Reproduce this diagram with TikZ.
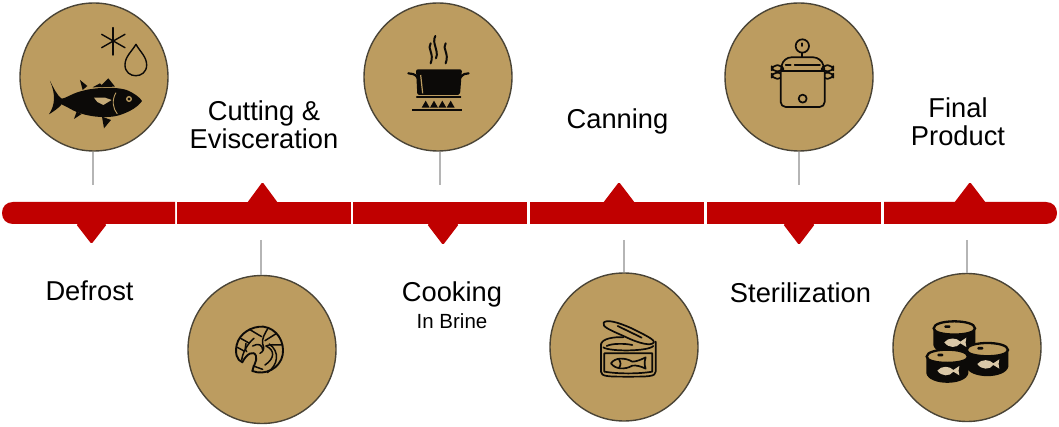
\documentclass[tikz,border=0pt]{standalone}
\usepackage{fontspec}
\setmainfont{Liberation Sans}
\definecolor{barred}{HTML}{C00000}
\definecolor{gold}{HTML}{BC9C60}
\definecolor{ink}{HTML}{0C0A08}
\definecolor{rim}{HTML}{4A4436}
\definecolor{stem}{HTML}{B5B5B5}
\tikzset{
  zoomed/.style 2 args={x=.3333pt,y=-.3333pt,xshift=#1pt,yshift=-#2pt},
  disc/.style={circle,draw=rim,line width=1.4pt,fill=gold,minimum size=148pt,inner sep=0pt},
  seg/.style={fill=barred,draw=none},
  stemline/.style={draw=stem,line width=1.5pt},
  lab/.style={font=\fontsize{27.3}{28}\selectfont,align=center,text=black,inner sep=0pt},
  lin/.style={draw=ink,line width=1.7pt,line cap=round,line join=round},
  thin/.style={draw=ink,line width=1.5pt,line cap=round,line join=round},
  blk/.style={fill=ink,draw=none}
}
\newcommand{\tincan}[2]{%
  \begin{scope}[xshift=#1*.3333pt,yshift=-#2*.3333pt]
  \fill[blk] (-63,0) -- (-63,50) .. controls (-55,88) and (55,88) .. (63,50) -- (63,0) -- cycle;
  \fill[gold] (-62,0) .. controls (-62,-28) and (62,-28) .. (62,0) .. controls (62,25) and (-62,25) .. (-62,0) -- cycle;
  \draw[draw=ink,line width=2.3pt] (-62,0) .. controls (-62,-28) and (62,-28) .. (62,0) .. controls (62,25) and (-62,25) .. (-62,0) -- cycle;
  \fill[blk,rounded corners=1pt] (-30,-9) rectangle (-12,-1);
  \fill[gold!55!white] (-30,42) .. controls (-18,26) and (8,28) .. (18,40) -- (36,28) .. controls (33,38) and (33,46) .. (36,56) -- (18,45) .. controls (8,60) and (-18,60) .. (-30,42) -- cycle;
  \end{scope}}
\begin{document}
\begin{tikzpicture}[x=1pt,y=-1pt]
\useasboundingbox (0,0) rectangle (1059,427);
% bar
\fill[seg] (13,202) -- (175,202) -- (175,224) -- (13,224) .. controls (6,224) and (2,219) .. (2,213) .. controls (2,207) and (6,202) .. (13,202) -- cycle;
\fill[seg] (177,202) rectangle (351,224);
\fill[seg] (353,202) rectangle (527,224);
\fill[seg] (530,202) rectangle (704,224);
\fill[seg] (707,202) rectangle (881,224);
\fill[seg] (884,202) -- (1046,202) .. controls (1053,202) and (1057,207) .. (1057,213) .. controls (1057,219) and (1053,224) .. (1046,224) -- (884,224) -- cycle;
% pointers
\fill[seg,rounded corners=1.5pt] (76,224) -- (91.5,244) -- (107,224) -- cycle;
\fill[seg,rounded corners=1.5pt] (247,203) -- (262.5,182) -- (278,203) -- cycle;
\fill[seg,rounded corners=1.5pt] (427,224) -- (443,245) -- (459,224) -- cycle;
\fill[seg,rounded corners=1.5pt] (603,203) -- (619,182) -- (635,203) -- cycle;
\fill[seg,rounded corners=1.5pt] (783,224) -- (799,245) -- (815,224) -- cycle;
\fill[seg,rounded corners=1.5pt] (954,203) -- (970,182) -- (986,203) -- cycle;
% discs
\node[disc] (d1) at (94,77) {};
\node[disc] (d2) at (262,349.5) {};
\node[disc] (d3) at (438,77) {};
\node[disc] (d4) at (624,347) {};
\node[disc] (d5) at (799,77) {};
\node[disc] (d6) at (967,347.5) {};
% connectors
\coordinate (e1) at (93,185);
\coordinate (e2) at (261,240);
\coordinate (e3) at (440,185);
\coordinate (e4) at (624,240);
\coordinate (e5) at (799,185);
\coordinate (e6) at (967,240);
\draw[stemline] (e1) -- (d1.south -| e1);
\draw[stemline] (e2) -- (d2.north -| e2);
\draw[stemline] (e3) -- (d3.south -| e3);
\draw[stemline] (e4) -- (d4.north -| e4);
\draw[stemline] (e5) -- (d5.south -| e5);
\draw[stemline] (e6) -- (d6.north -| e6);
% labels
\node[lab] (t1) at (89.5,291) {Defrost};
\node[lab] (t2) at (264,125) {Cutting \&\\Evisceration};
\node[lab,anchor=north] (t3) at (452,282) {Cooking\\[-1pt]{\fontsize{20.5}{22}\selectfont In Brine}};
\node[lab] (t4) at (617.5,121) {Canning};
\node[lab] (t5) at (800.5,293) {Sterilization};
\node[lab] (t6) at (958,122) {Final\\Product};
% fish and frost
\begin{scope}[zoomed={0}{0}]
\fill[blk] (150,243) .. controls (160,262) and (170,285) .. (185,296) .. controls (195,295) and (205,288) .. (215,284) .. controls (260,262) and (340,258) .. (380,270) .. controls (400,278) and (420,292) .. (426,303) .. controls (415,320) and (390,335) .. (360,345) .. controls (320,358) and (250,350) .. (212,327) -- (185,313) .. controls (175,325) and (160,335) .. (147,343) .. controls (165,315) and (168,285) .. (150,243) -- cycle;
\fill[blk] (240,240) -- (262,258) -- (248,270) -- cycle;
\fill[blk] (278,262) -- (300,250) -- (305,255) -- (325,235) -- (345,260) -- cycle;
\fill[blk] (222,357) -- (245,342) -- (230,335) -- cycle;
\fill[blk] (306,350) -- (333,360) -- (312,385) -- cycle;
\draw[gold,line width=.9pt] (348,278) .. controls (335,300) and (338,325) .. (352,342);
\fill[gold!85!white] (282,293) -- (315,293) -- (335,300) -- (310,315) -- (292,306) -- cycle;
\fill[gold] (387,297) circle [radius=9];
\fill[ink] (387,297) circle [radius=5];
\draw[lin,line width=1.4pt] (339,83) -- (339,165);
\draw[lin,line width=1.4pt] (305,103) -- (375,143);
\draw[lin,line width=1.4pt] (375,103) -- (305,143);
\draw[lin,line width=1.4pt] (408,133) .. controls (395,155) and (375,170) .. (375,195) .. controls (375,238) and (440,238) .. (440,195) .. controls (440,170) and (420,155) .. (408,133) -- cycle;
\end{scope}
% salmon steak
\begin{scope}[zoomed={180}{270}]
\draw[draw=ink,line width=1.9pt,line join=round] (187,277) .. controls (170,270) and (165,250) .. (170,225) .. controls (178,190) and (215,168) .. (250,170) .. controls (290,175) and (315,215) .. (308,255) .. controls (300,295) and (255,318) .. (217,303) .. controls (220,285) and (232,275) .. (228,258) .. controls (222,240) and (200,250) .. (187,277) -- cycle;
\draw[thin] (265,173) .. controls (255,190) and (245,205) .. (248,222) .. controls (255,235) and (250,245) .. (240,250);
\draw[thin] (218,228) .. controls (235,218) and (248,225) .. (248,240);
\draw[thin] (185,270) .. controls (190,235) and (215,210) .. (222,205);
\draw[thin] (172,232) -- (192,243);
\draw[thin] (182,205) -- (205,218) ;
\draw[thin] (208,178) -- (245,200);
\draw[thin] (290,190) -- (255,212);
\draw[thin] (306,225) .. controls (285,225) and (270,222) .. (258,228);
\draw[thin] (258,228) .. controls (285,240) and (285,265) .. (255,285);
\draw[thin] (268,222) .. controls (300,245) and (295,285) .. (262,308);
\draw[thin] (220,288) -- (248,298);
\draw[thin] (198,220) .. controls (195,228) and (195,240) .. (200,245);
\end{scope}
% pot
\begin{scope}[zoomed={360}{0}]
\foreach \sx in {212,257}{
  \draw[lin,line width=2pt] (\sx,130) .. controls (\sx-12,145) and (\sx+12,160) .. (\sx,190);
}
\draw[lin,line width=2pt] (226,108) .. controls (214,130) and (238,150) .. (228,175);
\fill[blk,rounded corners=2pt] (168,208) -- (306,208) -- (300,285) -- (172,285) -- cycle;
\draw[lin,line width=2.2pt] (145,220) .. controls (155,220) and (165,222) .. (172,232);
\draw[lin,line width=2.2pt] (326,220) .. controls (318,220) and (308,222) .. (302,232);
\draw[gold,line width=1.2pt] (182,225) -- (188,280);
\draw[lin,line width=1.2pt] (170,291) -- (302,291);
\foreach \bx in {197,222,247,272}{
  \fill[blk] (\bx-12,323) -- (\bx,302) -- (\bx+12,323) -- cycle;
}
\fill[blk] (157,326) rectangle (307,334);
\end{scope}
% opened can
\begin{scope}[zoomed={545}{270}]
\draw[lin] (168,222) -- (168,305) .. controls (168,320) and (190,320) .. (250,320) .. controls (310,320) and (332,320) .. (332,305) -- (332,215);
\draw[lin] (168,225) .. controls (168,205) and (210,200) .. (235,202);
\draw[lin] (175,232) .. controls (190,245) and (310,245) .. (325,228);
\draw[lin] (185,228) .. controls (200,220) and (240,220) .. (262,225);
\draw[lin] (178,250) -- (322,250) -- (322,305) .. controls (280,312) and (220,312) .. (178,305) -- cycle;
\draw[lin] (198,280) .. controls (210,262) and (240,262) .. (262,275) .. controls (275,275) and (290,268) .. (302,262) .. controls (298,275) and (298,285) .. (302,296) .. controls (290,290) and (275,285) .. (262,287) .. controls (240,300) and (210,298) .. (198,280) -- cycle;
\draw[lin] (222,268) .. controls (228,278) and (228,285) .. (222,294);
\draw[lin] (176,158) .. controls (185,148) and (215,155) .. (260,175) .. controls (300,195) and (332,210) .. (326,218) .. controls (318,228) and (285,222) .. (240,200) .. controls (200,182) and (168,170) .. (176,158) -- cycle;
\draw[lin] (218,168) -- (290,203);
\end{scope}
% pressure cooker
\begin{scope}[zoomed={720}{0}]
\draw[lin] (247,138) circle [radius=20];
\draw[lin] (247,130) -- (247,138);
\draw[lin] (247,158) -- (247,170);
\draw[lin,rounded corners=5pt] (155,196) rectangle (190,214);
\draw[lin,rounded corners=5pt] (305,196) rectangle (340,214);
\draw[lin,rounded corners=5pt] (155,218) rectangle (190,236);
\draw[lin,rounded corners=5pt] (305,218) rectangle (340,236);
\fill[gold,rounded corners=8pt] (183,210) -- (190,172) -- (304,172) -- (313,210) -- cycle;
\fill[gold] (182,216) rectangle (314,321);
\draw[lin,rounded corners=8pt] (183,208) -- (190,172) -- (304,172) -- (313,208);
\draw[lin] (183,214) -- (313,214);
\draw[lin,rounded corners=5pt] (182,216) -- (182,321) -- (314,321) -- (314,216);
\draw[lin] (197,196) -- (212,196);
\draw[lin] (224,196) -- (300,196);
\draw[lin] (248,296) circle [radius=12];
\end{scope}
% stacked cans
\begin{scope}[zoomed={890}{270}]
\tincan{193}{175}
\tincan{292}{240}
\tincan{172}{260}
\end{scope}
\end{tikzpicture}
\end{document}
